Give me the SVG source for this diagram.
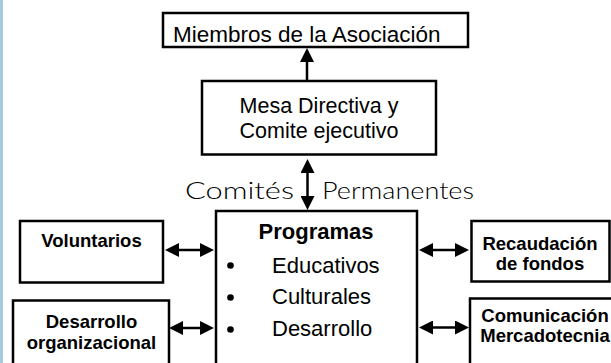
<svg xmlns="http://www.w3.org/2000/svg" width="611" height="363" viewBox="0 0 611 363">
<style>
.box{fill:#fff;stroke:#000;stroke-width:2.5}
.t{font-family:"Liberation Sans",Arial,sans-serif;fill:#000}
.n{font-size:22.5px}
.m{font-size:21.5px}
.b{font-size:18.5px;font-weight:bold}
.pb{font-size:22px;font-weight:bold}
.pi{font-size:22px}
.c{text-anchor:middle}
.lbl{font-family:Lato,"DejaVu Sans",sans-serif;font-weight:300;font-size:23px;fill:#000}
.con{stroke:#000;stroke-width:2.5;fill:none}
</style>
<defs>
<marker id="ah" markerUnits="userSpaceOnUse" markerWidth="14" markerHeight="14" refX="0" refY="7" orient="auto-start-reverse" viewBox="0 0 14 14">
<path d="M0,0 L14,7 L0,14 z" fill="#000"/>
</marker>
</defs>
<rect x="0" y="0" width="611" height="363" fill="#fff"/>
<rect x="0" y="0" width="3" height="363" fill="#a6c9de"/>

<g id="miembros">
<rect class="box" x="163" y="13" width="305" height="34"/>
<text class="t n" x="173" y="42">Miembros de la Asociación</text>
</g>

<g id="mesa">
<rect class="box" x="202" y="81" width="234" height="73.5"/>
<text class="t m c" x="319" y="113">Mesa Directiva y</text>
<text class="t m c" x="319" y="138">Comite ejecutivo</text>
</g>

<g id="programas">
<rect class="box" x="216" y="211" width="201" height="170"/>
<text class="t pb c" x="316" y="239">Programas</text>
<circle cx="230.5" cy="265.5" r="3.3" fill="#000"/>
<circle cx="230.5" cy="297.5" r="3.3" fill="#000"/>
<circle cx="230.5" cy="329.5" r="3.3" fill="#000"/>
<text class="t pi" x="272" y="272.5">Educativos</text>
<text class="t pi" x="272" y="304">Culturales</text>
<text class="t pi" x="272" y="335.5">Desarrollo</text>
</g>

<g id="voluntarios">
<rect class="box" x="20" y="221" width="143" height="61.5"/>
<text class="t b c" x="91.5" y="246.5">Voluntarios</text>
</g>

<g id="desarrollo-org">
<rect class="box" x="13" y="300.5" width="156" height="80"/>
<text class="t b c" x="91.5" y="327.5">Desarrollo</text>
<text class="t b c" x="91.5" y="349">organizacional</text>
</g>

<g id="recaudacion">
<rect class="box" x="471.5" y="221" width="138" height="60.5"/>
<text class="t b c" x="540" y="249.5">Recaudación</text>
<text class="t b c" x="540" y="270">de fondos</text>
</g>

<g id="comunicacion">
<rect class="box" x="470" y="298.5" width="150" height="80"/>
<text class="t b c" x="545" y="321.5">Comunicación</text>
<text class="t b c" x="545" y="342">Mercadotecnia</text>
</g>

<g id="connectors">
<line class="con" x1="307" y1="80" x2="307" y2="62" marker-end="url(#ah)"/>
<line class="con" x1="307.5" y1="173" x2="307.5" y2="196" marker-start="url(#ah)" marker-end="url(#ah)"/>
<line class="con" x1="179" y1="250" x2="200" y2="250" marker-start="url(#ah)" marker-end="url(#ah)"/>
<line class="con" x1="183" y1="328" x2="200" y2="328" marker-start="url(#ah)" marker-end="url(#ah)"/>
<line class="con" x1="433" y1="250" x2="455" y2="250" marker-start="url(#ah)" marker-end="url(#ah)"/>
<line class="con" x1="433" y1="327.5" x2="455" y2="327.5" marker-start="url(#ah)" marker-end="url(#ah)"/>
</g>

<g id="connector-labels">
<text class="lbl" x="185" y="199" textLength="109" lengthAdjust="spacingAndGlyphs">Comités</text>
<text class="lbl" x="322" y="199" textLength="152" lengthAdjust="spacingAndGlyphs">Permanentes</text>
</g>
</svg>
